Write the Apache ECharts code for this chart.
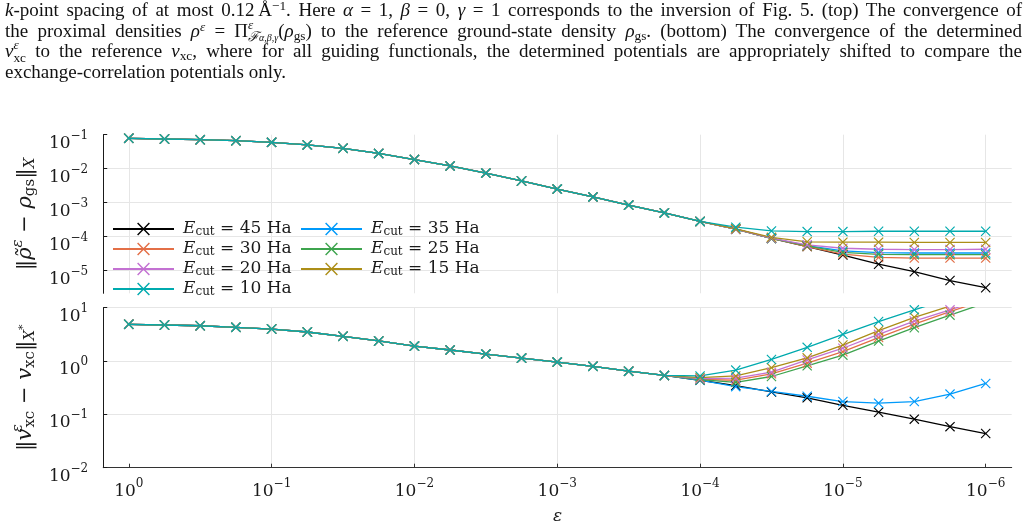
<!DOCTYPE html>
<html>
<head>
<meta charset="utf-8">
<script src="https://cdn.jsdelivr.net/npm/echarts@6/dist/echarts.min.js"></script>
<style>
html, body { margin: 0; padding: 0; background: #fff; }
#chart { position: absolute; left: 0; top: 0; width: 1030px; height: 531px; }
#caption {
  position: absolute; left: 5px; top: 0; width: 1017px; z-index: 2;
  font-family: 'Liberation Serif', serif; font-size: 19px; color: #111;
}
#caption .l { height: 20.5px; line-height: 20.5px; text-align: justify; text-align-last: justify; }
#caption .l.last { text-align: left; text-align-last: left; }
#caption sup, #caption sub { font-size: 0.7em; line-height: 0; position: relative; vertical-align: baseline; }
#caption sup { top: -0.45em; }
#caption sub { top: 0.25em; }
#caption .ss { display: inline-block; font-size: 0.7em; line-height: 0.95; vertical-align: -0.35em; margin: -8px 0; }
#caption .ss > span { display: block; }
#caption .ss small { font-size: 0.75em; }
</style>
</head>
<body>
<div id="chart"></div>
<div id="caption">
  <div class="l"><i>k</i>-point spacing of at most 0.12&thinsp;Å<sup>−1</sup>. Here <i>α</i>&nbsp;=&nbsp;1, <i>β</i>&nbsp;=&nbsp;0, <i>γ</i>&nbsp;=&nbsp;1 corresponds to the inversion of Fig. 5. (top) The convergence of</div>
  <div class="l">the proximal densities <i>ρ</i><sup><i>ε</i></sup>&nbsp;=&nbsp;Π<span class="ss"><span><i>ε</i></span><span><i>ℱ</i><small><i>α,β,γ</i></small></span></span>(<i>ρ</i><sub>gs</sub>) to the reference ground-state density <i>ρ</i><sub>gs</sub>. (bottom) The convergence of the determined</div>
  <div class="l"><i>v</i><span class="ss"><span><i>ε</i></span><span>xc</span></span> to the reference <i>v</i><sub>xc</sub>, where for all guiding functionals, the determined potentials are appropriately shifted to compare the</div>
  <div class="l last">exchange-correlation potentials only.</div>
</div>
<script>
// ε = 10^epsExp, four points per decade
const epsExp = [0, -0.25, -0.5, -0.75, -1, -1.25, -1.5, -1.75, -2, -2.25, -2.5, -2.75, -3,
  -3.25, -3.5, -3.75, -4, -4.25, -4.5, -4.75, -5, -5.25, -5.5, -5.75, -6]
const tickExpX = [0, -1, -2, -3, -4, -5, -6]
const tickExpTop = [-1, -2, -3, -4, -5]

const cutoffs = [45, 35, 30, 25, 20, 15, 10]
const colors = ['#000000', '#009AFA', '#E36F47', '#3EA44E', '#C371D2', '#AC8E18', '#00AAAE']

// top: log10 ||rho~ - rho_gs||, same for every cutoff up to eps = 1e-4
const rhoShared = [-1.106, -1.126, -1.147, -1.176, -1.225, -1.30, -1.40, -1.55, -1.73, -1.92,
  -2.13, -2.36, -2.60, -2.83, -3.07, -3.30, -3.55]
const rhoTail45 = [-3.78, -4.05, -4.29, -4.54, -4.81, -5.03, -5.29, -5.50]
const rhoTail35 = [-3.78, -4.05, -4.26, -4.42, -4.47, -4.48, -4.48, -4.48]
const rhoTail30 = [-3.78, -4.05, -4.29, -4.51, -4.61, -4.63, -4.63, -4.63]
const rhoTail25 = [-3.78, -4.05, -4.27, -4.46, -4.52, -4.53, -4.53, -4.53]
const rhoTail20 = [-3.78, -4.04, -4.24, -4.34, -4.37, -4.38, -4.38, -4.37]
const rhoTail15 = [-3.77, -4.02, -4.15, -4.16, -4.16, -4.17, -4.17, -4.17]
const rhoTail10 = [-3.72, -3.83, -3.85, -3.85, -3.84, -3.84, -3.84, -3.84]

// bottom: log10 ||v_xc^eps - v_xc||, same for every cutoff up to eps = 10^-3.75
const vxcShared = [0.689, 0.676, 0.662, 0.632, 0.60, 0.544, 0.464, 0.376, 0.28, 0.207,
  0.13, 0.055, -0.02, -0.10, -0.19, -0.27]
const vxcTail45 = [-0.36, -0.46, -0.58, -0.69, -0.83, -0.96, -1.09, -1.23, -1.36]
const vxcTail35 = [-0.36, -0.48, -0.57, -0.66, -0.76, -0.79, -0.76, -0.62, -0.42]
const vxcTail30 = [-0.345, -0.36, -0.24, -0.04, 0.175, 0.44, 0.69, 0.925, 1.15]
const vxcTail25 = [-0.35, -0.40, -0.29, -0.09, 0.11, 0.375, 0.625, 0.86, 1.09]
const vxcTail20 = [-0.33, -0.32, -0.21, 0.02, 0.24, 0.50, 0.75, 0.96, 1.18]
const vxcTail15 = [-0.31, -0.28, -0.125, 0.06, 0.30, 0.57, 0.82, 1.03, 1.25]
const vxcTail10 = [-0.28, -0.17, 0.03, 0.257, 0.50, 0.74, 0.96, 1.17, 1.37]

const rhoTails = [rhoTail45, rhoTail35, rhoTail30, rhoTail25, rhoTail20, rhoTail15, rhoTail10]
const vxcTails = [vxcTail45, vxcTail35, vxcTail30, vxcTail25, vxcTail20, vxcTail15, vxcTail10]

const serif = 'DejaVu Serif'
const ink = '#1a1a1a'
const gridColor = '#e6e6e6'
// cross marker, filled so it scales with the symbol size
const crossPath = 'path://M0,8L8,0L50,42L92,0L100,8L58,50L100,92L92,100L50,58L8,100L0,92L42,50Z'

const seriesName = c => `Ecut = ${c} Ha`

// 10^n with the exponent raised
const powLabel = v => {
  const n = Math.round(v)
  return `{b|10}{s|${n < 0 ? '\u2212' + (-n) : n}}`
}
const tickRich = {
  b: {fontFamily: serif, fontSize: 17, color: ink, lineHeight: 20, padding: [10, 0, 0, 0], verticalAlign: 'top'},
  s: {fontFamily: serif, fontSize: 12, color: ink, lineHeight: 14, padding: [5, 0, 0, 0], verticalAlign: 'top'}
}
const nameRich = {
  m: {fontFamily: serif, fontSize: 21, color: ink, lineHeight: 24, padding: [7, 0, 0, 0], verticalAlign: 'top'},
  i: {fontFamily: serif, fontStyle: 'italic', fontSize: 21, color: ink, lineHeight: 24, padding: [7, 0, 0, 0], verticalAlign: 'top'},
  p: {fontFamily: serif, fontStyle: 'italic', fontSize: 15, color: ink, lineHeight: 15, padding: [3, 0, 0, 0], verticalAlign: 'top'},
  pw: {fontFamily: serif, fontStyle: 'italic', fontSize: 15, color: ink, lineHeight: 15, padding: [3, 0, 0, 0], verticalAlign: 'top', width: 1},
  d: {fontFamily: serif, fontSize: 15, color: ink, lineHeight: 15, padding: [15, 0, 0, 0], verticalAlign: 'top'},
  dx: {fontFamily: serif, fontStyle: 'italic', fontSize: 15, color: ink, lineHeight: 15, padding: [15, 0, 0, 0], verticalAlign: 'top'},
  ds: {fontFamily: serif, fontSize: 11, color: ink, lineHeight: 11, padding: [10, 0, 0, 0], verticalAlign: 'top'}
}
const legendRich = {
  e: {fontFamily: serif, fontStyle: 'italic', fontSize: 17, color: ink, lineHeight: 18, padding: [0, 0, 0, 4], verticalAlign: 'top'},
  c: {fontFamily: serif, fontSize: 12, color: ink, lineHeight: 12, padding: [6, 0, 0, 0], verticalAlign: 'top'},
  t: {fontFamily: serif, fontSize: 17, color: ink, lineHeight: 18, verticalAlign: 'top'}
}

const makeLegend = (list, left) => ({
  data: list.map(seriesName),
  orient: 'vertical',
  left: left,
  top: 220,
  padding: 0,
  itemWidth: 61,
  itemHeight: 16,
  itemGap: 2,
  selectedMode: false,
  formatter: name => `{e|E}{c|cut}{t| = ${name.split(' = ')[1]}}`,
  textStyle: {rich: legendRich}
})

const xBase = {
  type: 'value',
  inverse: true,
  min: -6.182,
  max: 0.179,
  splitNumber: 6,
  splitLine: {show: true, showMinLine: false, showMaxLine: false, lineStyle: {color: gridColor, width: 1}}
}
const yBase = {
  type: 'value',
  axisLine: {show: true, onZero: false, lineStyle: {color: ink, width: 1}},
  axisTick: {show: true, inside: true, length: 4, lineStyle: {color: ink}},
  axisLabel: {formatter: powLabel, rich: tickRich, margin: 15},
  splitLine: {show: true, showMinLine: false, lineStyle: {color: gridColor, width: 1}},
  nameLocation: 'middle',
  nameRotate: 90,
  nameGap: 60,
  nameTextStyle: {rich: nameRich}
}

const series = []
cutoffs.forEach((c, i) => {
  const common = {
    name: seriesName(c),
    type: 'line',
    symbol: crossPath,
    symbolSize: 10,
    showSymbol: true,
    lineStyle: {width: 1.3, color: colors[i]},
    itemStyle: {color: colors[i]},
    emphasis: {disabled: true}
  }
  series.push({
    ...common, xAxisIndex: 0, yAxisIndex: 0,
    data: rhoShared.concat(rhoTails[i]).map((y, k) => [epsExp[k], y])
  })
  series.push({
    ...common, xAxisIndex: 1, yAxisIndex: 1,
    data: vxcShared.concat(vxcTails[i]).map((y, k) => [epsExp[k], y])
  })
})

const chart = echarts.init(document.getElementById('chart'))
chart.setOption({
  animation: false,
  backgroundColor: '#fff',
  grid: [
    {left: 101.7, right: 18.3, top: 134.7, height: 158.6},
    {left: 101.7, right: 18.3, top: 307.7, height: 160}
  ],
  legend: [
    makeLegend([45, 30, 20, 10], 112),
    makeLegend([35, 25, 15], 300)
  ],
  xAxis: [
    {
      ...xBase, gridIndex: 0,
      axisLine: {show: false, onZero: false}, axisTick: {show: false}, axisLabel: {show: false}
    },
    {
      ...xBase, gridIndex: 1,
      axisLine: {show: true, onZero: false, lineStyle: {color: '#333', width: 1}},
      axisTick: {show: true, inside: true, length: 4, customValues: tickExpX, lineStyle: {color: '#333'}},
      axisLabel: {customValues: tickExpX, formatter: powLabel, rich: tickRich, margin: 5},
      name: 'ε',
      nameLocation: 'middle',
      nameGap: 40,
      nameTextStyle: {fontFamily: serif, fontStyle: 'italic', fontSize: 17, color: ink}
    }
  ],
  yAxis: [
    {
      ...yBase, gridIndex: 0, min: -5.665, max: -1,
      axisTick: {...yBase.axisTick, customValues: tickExpTop},
      axisLabel: {...yBase.axisLabel, customValues: tickExpTop},
      name: '{m|\u2016}{i|\u03c1\u0303}{p|\u03b5}{m| \u2212 }{i|\u03c1}{d|gs}{m|\u2016}{dx|X}'
    },
    {
      ...yBase, gridIndex: 1, min: -2, max: 1, interval: 1,
      name: '{m|\u2016}{i|v}{pw|\u03b5}{d|xc}{m| \u2212 }{i|v}{d|xc}{m|\u2016}{dx|X}{ds|*}'
    }
  ],
  series: series
})
</script>
</body>
</html>
